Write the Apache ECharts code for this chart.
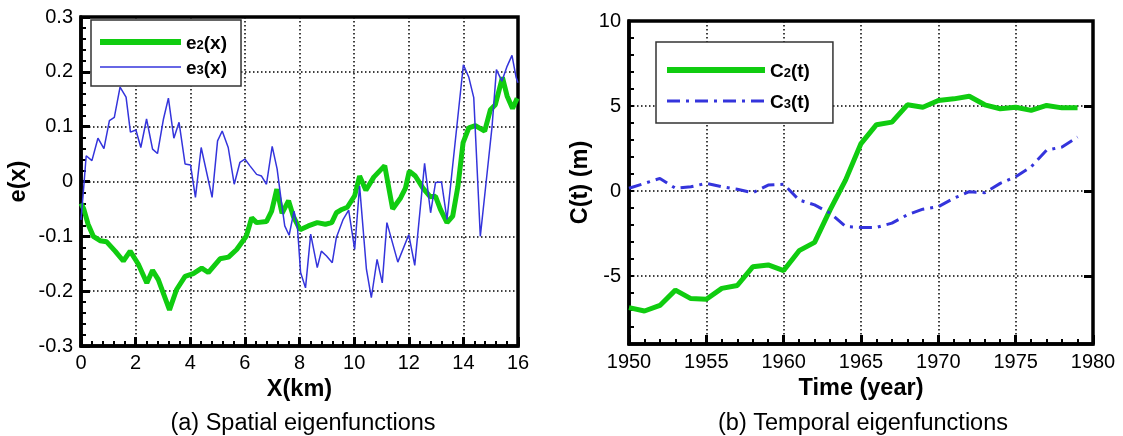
<!DOCTYPE html>
<html><head><meta charset="utf-8">
<script src="https://cdn.jsdelivr.net/npm/echarts@6/dist/echarts.min.js"></script>
<style>html,body{margin:0;padding:0;background:#fff;}#c{width:1123px;height:436px;}</style>
</head><body><div id="c"></div>
<script>
// ---- data ----
const e2 = [[0,-0.04],[0.1,-0.05],[0.26,-0.078],[0.45,-0.1],[0.7,-0.108],[0.94,-0.11],[1.25,-0.127],[1.55,-0.145],[1.8,-0.127],[2.1,-0.151],[2.41,-0.185],[2.62,-0.162],[2.83,-0.179],[3.24,-0.234],[3.5,-0.197],[3.81,-0.173],[4.11,-0.168],[4.42,-0.158],[4.66,-0.166],[5.09,-0.141],[5.4,-0.138],[5.7,-0.124],[6.05,-0.1],[6.25,-0.066],[6.43,-0.075],[6.79,-0.073],[6.98,-0.054],[7.17,-0.014],[7.36,-0.058],[7.6,-0.035],[7.77,-0.063],[8.02,-0.088],[8.32,-0.081],[8.65,-0.075],[8.95,-0.078],[9.18,-0.075],[9.35,-0.057],[9.55,-0.051],[9.75,-0.047],[10.02,-0.026],[10.2,0.01],[10.43,-0.016],[10.72,0.008],[11.12,0.029],[11.41,-0.05],[11.7,-0.03],[11.88,-0.012],[12.02,0.019],[12.24,0.01],[12.52,-0.012],[12.79,-0.028],[12.98,-0.027],[13.16,-0.051],[13.4,-0.075],[13.61,-0.063],[13.8,-0.009],[13.99,0.071],[14.2,0.098],[14.44,0.102],[14.78,0.092],[14.99,0.131],[15.17,0.14],[15.43,0.19],[15.6,0.156],[15.8,0.133],[15.97,0.152]];
const e3 = [[0,-0.07],[0.1,-0.01],[0.19,0.047],[0.4,0.038],[0.62,0.079],[0.84,0.06],[1.04,0.111],[1.22,0.117],[1.43,0.172],[1.65,0.154],[1.81,0.09],[2.01,0.094],[2.19,0.062],[2.4,0.114],[2.62,0.059],[2.8,0.051],[3.02,0.114],[3.2,0.152],[3.4,0.079],[3.59,0.108],[3.81,0.032],[4.01,0.03],[4.19,-0.029],[4.4,0.062],[4.8,-0.029],[5.0,0.074],[5.17,0.092],[5.39,0.062],[5.61,-0.005],[5.82,0.035],[6.0,0.041],[6.18,0.029],[6.43,0.013],[6.61,0.01],[6.79,-0.005],[7.0,0.064],[7.18,0.023],[7.34,-0.038],[7.46,-0.081],[7.62,-0.098],[7.8,-0.054],[7.93,-0.087],[8.04,-0.166],[8.22,-0.194],[8.41,-0.096],[8.65,-0.157],[8.8,-0.127],[8.99,-0.136],[9.2,-0.148],[9.35,-0.102],[9.6,-0.069],[9.8,-0.052],[10.02,-0.124],[10.2,-0.008],[10.45,-0.16],[10.63,-0.212],[10.84,-0.142],[11.03,-0.185],[11.2,-0.075],[11.6,-0.147],[12.0,-0.097],[12.22,-0.153],[12.58,0.033],[12.8,-0.057],[12.98,-0.002],[13.2,-0.001],[13.4,-0.069],[14.0,0.213],[14.2,0.19],[14.38,0.153],[14.62,-0.1],[14.87,0.016],[15.05,0.1],[15.21,0.204],[15.41,0.183],[15.6,0.21],[15.78,0.23],[15.93,0.19],[16.0,0.18]];
const years = [1950,1951,1952,1953,1954,1955,1956,1957,1958,1959,1960,1961,1962,1963,1964,1965,1966,1967,1968,1969,1970,1971,1972,1973,1974,1975,1976,1977,1978,1979];
const c2 = [-6.86,-7.06,-6.73,-5.83,-6.33,-6.37,-5.73,-5.56,-4.46,-4.35,-4.68,-3.51,-3.02,-1.11,0.64,2.79,3.9,4.05,5.07,4.93,5.32,5.42,5.57,5.07,4.84,4.93,4.74,5.03,4.89,4.89];
const c3 = [0.16,0.45,0.74,0.16,0.25,0.45,0.25,0.1,-0.1,0.35,0.4,-0.53,-0.82,-1.3,-2.09,-2.14,-2.14,-1.89,-1.4,-1.07,-0.92,-0.43,-0.04,-0.1,0.45,0.84,1.42,2.4,2.59,3.18];
const rightMajorTicks = [-5,0,5];
const captions = ['(a) Spatial eigenfunctions','(b) Temporal eigenfunctions'];

const FONT = '"Liberation Sans", Arial, sans-serif';
const GREEN = '#10cc10', BLUE = '#3434dc';
const C3DASH = [13,6,3,6];
const gridLine = {show:true, lineStyle:{color:'#000', width:1.5, type:[1.5,2.5]}};
const axLine = {show:true, onZero:false, lineStyle:{color:'#000', width:3.5}};
const lab = {color:'#000', fontFamily:FONT, fontSize:20};
const nameStyle = {color:'#000', fontFamily:FONT, fontSize:23.5, fontWeight:'bold'};
const legendFmt = n => `{a|${n[0]}}{s|${n[1]}}{a|${n.slice(2)}}`;
const legendRich = {
  a:{fontFamily:FONT, fontSize:19, fontWeight:'bold', color:'#000', lineHeight:22, verticalAlign:'bottom'},
  s:{fontFamily:FONT, fontSize:13, fontWeight:'bold', color:'#000', lineHeight:14, verticalAlign:'bottom', padding:[0,0,1,0]}
};
const legendBase = {orient:'vertical', itemHeight:14, borderColor:'#333', borderWidth:1.5, backgroundColor:'#fff',
  formatter:legendFmt, textStyle:{rich:legendRich}, itemStyle:{opacity:0, borderWidth:0}};

const chart = echarts.init(document.getElementById('c'), null, {renderer:'canvas'});
chart.setOption({
  animation:false,
  backgroundColor:'#fff',
  title: captions.map((t,i)=>({text:t, left: i===0?298:858, top:407, textAlign:'center',
    textStyle:{fontFamily:FONT, fontSize:23.5, fontWeight:'normal', color:'#000'}})),
  grid:[
    {left:81, top:17, width:437, height:329, show:true, borderColor:'#000', borderWidth:3.5, backgroundColor:'transparent'},
    {left:629, top:21, width:464, height:323, show:true, borderColor:'#000', borderWidth:3.5, backgroundColor:'transparent'}
  ],
  legend:[
    {...legendBase, left:91, top:20, padding:[14,14,8,6], itemGap:6, itemWidth:81,
     data:[{name:'e2(x)', lineStyle:{width:6}}, {name:'e3(x)', lineStyle:{width:1.5}}]},
    {...legendBase, left:656, top:42, padding:[20,23,11,8], itemGap:12, itemWidth:98,
     data:[{name:'C2(t)', lineStyle:{width:6}}, {name:'C3(t)', lineStyle:{width:3, type:C3DASH}}]}
  ],
  xAxis:[
    {type:'value', gridIndex:0, min:0, max:16, interval:2, axisLine:axLine,
     axisTick:{inside:true, length:9, lineStyle:{color:'#000', width:3}},
     minorTick:{show:true, splitNumber:5, length:5, lineStyle:{color:'#000', width:2}},
     axisLabel:{...lab, margin:7}, splitLine:gridLine,
     name:'X(km)', nameLocation:'middle', nameGap:21, nameTextStyle:nameStyle},
    {type:'value', gridIndex:1, min:1950, max:1980, interval:5, axisLine:axLine,
     axisTick:{inside:true, length:9, lineStyle:{color:'#000', width:3}},
     minorTick:{show:true, splitNumber:5, length:5, lineStyle:{color:'#000', width:2}},
     axisLabel:{...lab, margin:8, formatter:v => String(v)}, splitLine:gridLine,
     name:'Time (year)', nameLocation:'middle', nameGap:23, nameTextStyle:nameStyle}
  ],
  yAxis:[
    {type:'value', gridIndex:0, min:-0.3, max:0.3, interval:0.1, axisLine:axLine,
     axisTick:{inside:true, length:9, lineStyle:{color:'#000', width:3}},
     minorTick:{show:true, splitNumber:5, length:5, lineStyle:{color:'#000', width:2}},
     axisLabel:{...lab, margin:8}, splitLine:gridLine,
     name:'e(x)', nameLocation:'middle', nameGap:50, nameTextStyle:nameStyle},
    {type:'value', gridIndex:1, min:-9, max:10, interval:1, axisLine:axLine,
     axisTick:{inside:true, length:5, lineStyle:{color:'#000', width:2}},
     axisLabel:{...lab, margin:8, formatter:v => (v % 5 === 0 ? String(v) : '')},
     splitLine:{show:false},
     name:'C(t) (m)', nameLocation:'middle', nameGap:36, nameTextStyle:nameStyle},
    {type:'value', gridIndex:1, min:-9, max:10, axisLine:{show:false},
     axisTick:{show:true, inside:true, length:9, customValues:rightMajorTicks, lineStyle:{color:'#000', width:3}},
     axisLabel:{show:false}, splitLine:gridLine}
  ],
  series:[
    {name:'e2(x)', type:'line', xAxisIndex:0, yAxisIndex:0, data:e2, showSymbol:false, symbol:'none',
     lineStyle:{color:GREEN, width:5}, itemStyle:{color:GREEN}, z:3},
    {name:'e3(x)', type:'line', xAxisIndex:0, yAxisIndex:0, data:e3, showSymbol:false, symbol:'none',
     lineStyle:{color:BLUE, width:1.5}, itemStyle:{color:BLUE}, z:4},
    {name:'C2(t)', type:'line', xAxisIndex:1, yAxisIndex:1, data:years.map((y,i)=>[y,c2[i]]), showSymbol:false, symbol:'none',
     lineStyle:{color:GREEN, width:5}, itemStyle:{color:GREEN}, z:3},
    {name:'C3(t)', type:'line', xAxisIndex:1, yAxisIndex:1, data:years.map((y,i)=>[y,c3[i]]), showSymbol:false, symbol:'none',
     lineStyle:{color:BLUE, width:3, type:C3DASH}, itemStyle:{color:BLUE}, z:4}
  ]
});
</script></body></html>
